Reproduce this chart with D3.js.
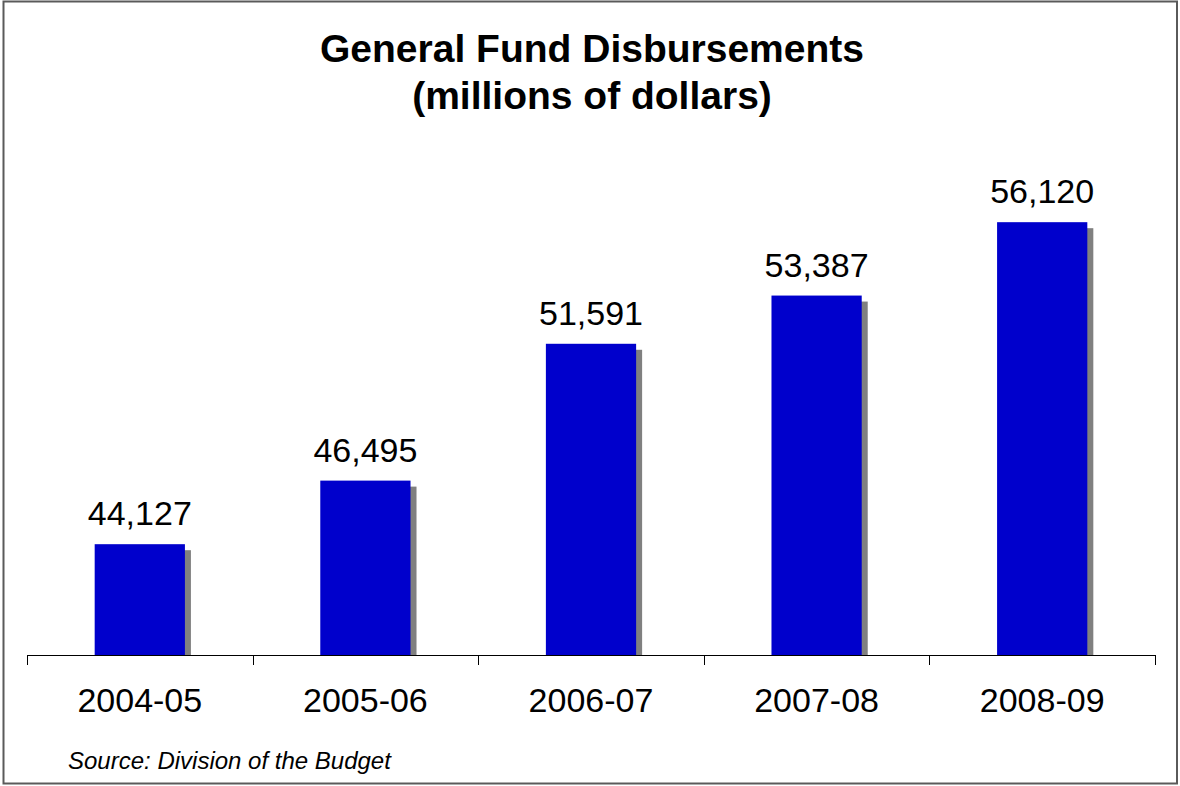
<!DOCTYPE html>
<html>
<head>
<meta charset="utf-8">
<script src="https://cdn.jsdelivr.net/npm/d3@7"></script>
<style>
  html, body { margin: 0; padding: 0; background: #fff; }
  svg { display: block; font-family: "Liberation Sans", Arial, sans-serif; }
</style>
</head>
<body>
<svg id="chart" width="1180" height="786"></svg>
<script>
// Fiscal years and General Fund disbursements (millions of dollars)
const years = ["2004-05", "2005-06", "2006-07", "2007-08", "2008-09"];
const disbursements = [44127, 46495, 51591, 53387, 56120];
const valueDomain = [40000, 60000];

const svg = d3.select("#chart");

// outer frame
svg.append("rect")
  .attr("x", 3.5).attr("y", 1.5)
  .attr("width", 1173.5).attr("height", 782)
  .attr("fill", "#fff")
  .attr("stroke", "#5a5a5a").attr("stroke-width", 2);

// title
const title = svg.append("text")
  .attr("text-anchor", "middle")
  .attr("font-weight", "bold")
  .attr("font-size", 39)
  .attr("fill", "#000");
title.append("tspan").attr("x", 592).attr("y", 62).text("General Fund Disbursements");
title.append("tspan").attr("x", 592).attr("y", 109).text("(millions of dollars)");

const x = d3.scaleBand()
  .domain(years)
  .range([27, 1155])
  .paddingInner(0.6)
  .paddingOuter(0.3);

const y = d3.scaleLinear()
  .domain(valueDomain)
  .range([655, 118]);

const data = years.map((yr, i) => ({ year: yr, value: disbursements[i] }));
const fmt = d3.format(",");

// drop shadows behind the bars
svg.append("g").selectAll("rect")
  .data(data)
  .join("rect")
  .attr("x", d => x(d.year) + 6)
  .attr("y", d => y(d.value) + 6)
  .attr("width", x.bandwidth())
  .attr("height", d => y.range()[0] - y(d.value) - 6)
  .attr("fill", "#808080");

// bars
svg.append("g").selectAll("rect")
  .data(data)
  .join("rect")
  .attr("x", d => x(d.year))
  .attr("y", d => y(d.value))
  .attr("width", x.bandwidth())
  .attr("height", d => y.range()[0] - y(d.value))
  .attr("fill", "#0000cc");

// value labels
svg.append("g").selectAll("text")
  .data(data)
  .join("text")
  .attr("x", d => x(d.year) + x.bandwidth() / 2)
  .attr("y", d => y(d.value) - 19)
  .attr("text-anchor", "middle")
  .attr("font-size", 34)
  .attr("fill", "#000")
  .text(d => fmt(d.value));

// category axis with ticks at band boundaries
const axisY = 655;
const bounds = d3.range(years.length + 1).map(i => 27 + i * (1155 - 27) / years.length);
const axisG = svg.append("g");
axisG.append("line")
  .attr("x1", 27).attr("x2", 1155)
  .attr("y1", axisY + 0.5).attr("y2", axisY + 0.5)
  .attr("stroke", "#000").attr("stroke-width", 1);
axisG.selectAll("line.tick")
  .data(bounds)
  .join("line")
  .attr("class", "tick")
  .attr("x1", d => Math.round(d) + 0.5).attr("x2", d => Math.round(d) + 0.5)
  .attr("y1", axisY).attr("y2", axisY + 10)
  .attr("stroke", "#000").attr("stroke-width", 1);

axisG.selectAll("text")
  .data(years)
  .join("text")
  .attr("x", d => x(d) + x.bandwidth() / 2)
  .attr("y", 712)
  .attr("text-anchor", "middle")
  .attr("font-size", 34)
  .attr("fill", "#000")
  .text(d => d);

// source note
svg.append("text")
  .attr("x", 68).attr("y", 769)
  .attr("font-size", 24)
  .attr("font-style", "italic")
  .attr("fill", "#000")
  .text("Source: Division of the Budget");
</script>
</body>
</html>
